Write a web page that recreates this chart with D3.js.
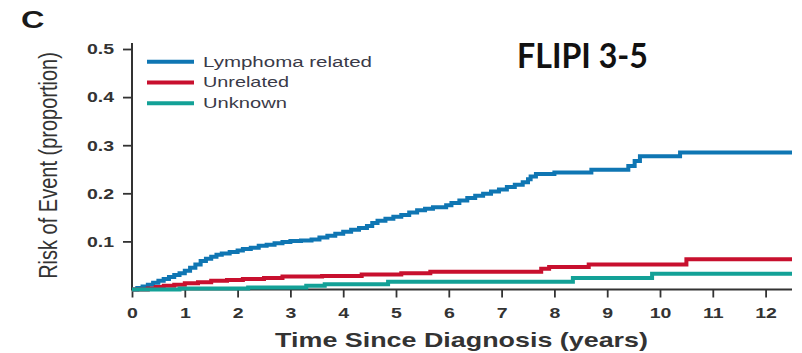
<!DOCTYPE html>
<html>
<head>
<meta charset="utf-8">
<script src="https://cdn.jsdelivr.net/npm/d3@7"></script>
<style>
  html, body { margin: 0; padding: 0; background: #fff; }
  svg { display: block; font-family: "Liberation Sans", Arial, sans-serif; }
</style>
</head>
<body>
<svg id="chart" width="802" height="353"></svg>
<script>
// Cumulative incidence of events by cause, FLIPI 3-5 group
const seriesNames = ["Lymphoma related", "Unrelated", "Unknown"];
const seriesColors = ["#0f76b3", "#c8102e", "#13a197"];

const lymphomaTimes = [0, 0.1, 0.2, 0.3, 0.4, 0.5, 0.6, 0.7, 0.8, 0.9, 1.0, 1.1, 1.2, 1.3, 1.4, 1.5, 1.6, 1.7,
  1.85, 2.0, 2.1, 2.25, 2.4, 2.55, 2.7, 2.85, 3.0,
  3.2, 3.4, 3.55, 3.7, 3.85, 4.0, 4.15, 4.3, 4.45, 4.55, 4.65, 4.8, 4.95,
  5.1, 5.25, 5.4, 5.55, 5.7, 5.95, 6.05, 6.2, 6.35, 6.5, 6.65, 6.8, 6.95, 7.1, 7.25, 7.4, 7.5, 7.55, 7.65,
  8.0, 8.7, 9.4, 9.52, 9.62, 10.38];
const lymphomaRisk = [0, 0.003, 0.006, 0.010, 0.014, 0.018, 0.022, 0.026, 0.030, 0.034, 0.039, 0.045, 0.052, 0.059, 0.064, 0.068, 0.072, 0.075,
  0.078, 0.081, 0.084, 0.087, 0.091, 0.093, 0.096, 0.099, 0.101,
  0.102, 0.104, 0.108, 0.112, 0.116, 0.120, 0.124, 0.128, 0.132, 0.138, 0.143, 0.147, 0.151,
  0.155, 0.160, 0.165, 0.168, 0.171, 0.175, 0.180, 0.185, 0.190, 0.195, 0.199, 0.204, 0.208, 0.213, 0.218, 0.223, 0.229, 0.235, 0.240,
  0.243, 0.249, 0.257, 0.267, 0.277, 0.285];

const unrelatedTimes = [0, 0.3, 0.45, 0.6, 0.8, 1.0, 1.25, 1.5, 1.8, 2.1, 2.5, 2.85, 3.6, 4.35, 5.1, 5.65, 7.75, 7.9, 8.65, 10.5];
const unrelatedRisk = [0, 0.002, 0.005, 0.008, 0.010, 0.013, 0.015, 0.018, 0.020, 0.022, 0.024, 0.027, 0.028, 0.031, 0.034, 0.037, 0.043, 0.047, 0.052, 0.063];

const unknownTimes = [0, 0.9, 2.2, 3.3, 3.65, 4.85, 8.35, 9.85];
const unknownRisk = [0, 0.002, 0.004, 0.008, 0.011, 0.016, 0.024, 0.033];

const followUpEnd = 12.5;
const xTickValues = [0, 1, 2, 3, 4, 5, 6, 7, 8, 9, 10, 11, 12];
const yTickValues = [0.1, 0.2, 0.3, 0.4, 0.5];

const panelLetter = "C";
const groupLabel = "FLIPI 3-5";
const xTitle = "Time Since Diagnosis (years)";
const yTitle = "Risk of Event (proportion)";

const series = [
  { name: seriesNames[0], color: seriesColors[0], times: lymphomaTimes, risk: lymphomaRisk },
  { name: seriesNames[1], color: seriesColors[1], times: unrelatedTimes, risk: unrelatedRisk },
  { name: seriesNames[2], color: seriesColors[2], times: unknownTimes, risk: unknownRisk }
];

const svg = d3.select("#chart");
const x = d3.scaleLinear().domain([0, followUpEnd]).range([132, 792]);
const y = d3.scaleLinear().domain([0, 0.5]).range([289.5, 49]);

const ink = "#333";
const wide = 1.3; // horizontal widening applied to text glyphs

// place a text at (px,py) widened horizontally by factor f
function widen(sel, px, py, f) {
  sel.attr("x", 0).attr("y", 0)
     .attr("transform", `translate(${px},${py}) scale(${f},1)`);
}
// widen a text so that it spans the given width
function fitWidth(sel, px, py, width) {
  const natural = sel.node().getComputedTextLength();
  widen(sel, px, py, width / natural);
}

// ----- axes -----
const yAxis = d3.axisLeft(y).tickValues(yTickValues).tickFormat(d3.format(".1f"))
  .tickSize(9).tickPadding(9).tickSizeOuter(0);
const gy = svg.append("g").attr("transform", `translate(${x(0)},0)`).call(yAxis);
gy.select(".domain").remove();

const xAxis = d3.axisBottom(x).tickValues(xTickValues).tickFormat(d3.format("d"))
  .tickSize(8).tickPadding(9.5).tickSizeOuter(0);
const gx = svg.append("g").attr("transform", `translate(0,${y(0)})`).call(xAxis);
gx.select(".domain").remove();

[gx, gy].forEach(g => {
  g.selectAll(".tick line").attr("stroke", ink).attr("stroke-width", 1.8);
  g.selectAll(".tick text")
    .attr("fill", ink).attr("font-size", 15).attr("font-weight", "bold")
    .attr("font-family", "'Liberation Sans', Arial, sans-serif")
    .each(function () {
      const t = d3.select(this);
      const px = +t.attr("x") || 0, py = +t.attr("y") || 0;
      widen(t, px, py, wide);
    });
});

// axis lines
svg.append("line").attr("x1", x(0)).attr("x2", x(0)).attr("y1", y(0.5) - 6).attr("y2", y(0) + 1)
  .attr("stroke", ink).attr("stroke-width", 2);
svg.append("line").attr("x1", x(0)).attr("x2", x(followUpEnd)).attr("y1", y(0)).attr("y2", y(0))
  .attr("stroke", ink).attr("stroke-width", 1.8);

// ----- step curves -----
const line = d3.line().x(d => x(d[0])).y(d => y(d[1])).curve(d3.curveStepAfter);
series.forEach(s => {
  const pts = s.times.map((t, i) => [t, s.risk[i]]);
  pts.push([followUpEnd, s.risk[s.risk.length - 1]]);
  svg.append("path").datum(pts)
    .attr("d", line).attr("fill", "none")
    .attr("stroke", s.color).attr("stroke-width", 4)
    .attr("stroke-linejoin", "miter");
});

// ----- legend -----
const legendWidths = [169, 86, 84];
series.forEach((s, i) => {
  const ly = 61.7 + i * 20.8;
  svg.append("line").attr("x1", 147).attr("x2", 194).attr("y1", ly).attr("y2", ly)
    .attr("stroke", s.color).attr("stroke-width", 4);
  const t = svg.append("text").text(s.name)
    .attr("font-size", 14).attr("fill", "#3a3a48");
  fitWidth(t, 203, ly + 4.8, legendWidths[i]);
});

// ----- titles -----
const xt = svg.append("text").text(xTitle)
  .attr("font-size", 21).attr("font-weight", "bold").attr("fill", ink)
  .attr("text-anchor", "middle");
widen(xt, 461.5, 347, 1.28);

svg.append("text").text(yTitle)
  .attr("font-size", 20).attr("fill", ink).attr("text-anchor", "middle")
  .attr("transform", `translate(57,165.5) scale(1.3,1) rotate(-90)`);

const pl = svg.append("text").text(panelLetter)
  .attr("font-size", 24).attr("font-weight", "bold").attr("fill", "#1a1a1a");
widen(pl, 21, 27.5, 1.35);

const gl = svg.append("text").text(groupLabel)
  .attr("font-size", 34).attr("font-weight", "bold").attr("fill", "#111")
  .attr("font-family", "Lato, 'Open Sans', sans-serif");
fitWidth(gl, 517, 68, 131);
</script>
</body>
</html>
